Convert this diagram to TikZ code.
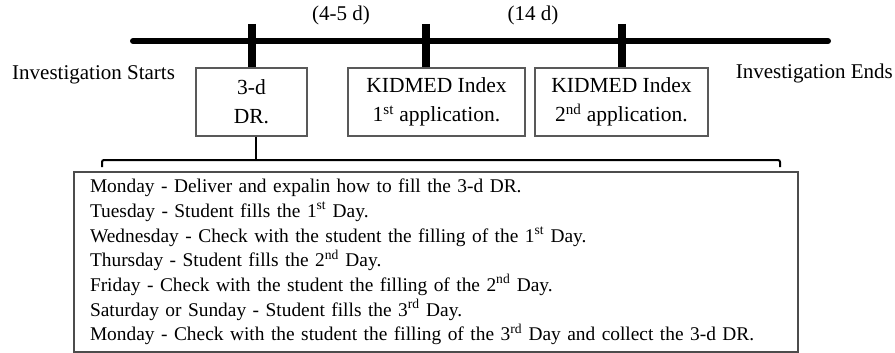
\documentclass[tikz,border=0pt]{standalone}
\usepackage{fontspec}
\setmainfont{Liberation Serif}
\begin{document}
\begin{tikzpicture}[x=1pt,y=-1pt,
  lbl/.style={font=\fontsize{21}{24}\selectfont, inner sep=0pt},
  stagebox/.style={draw=black!65, line width=1.3pt, align=center, font=\fontsize{21.5}{29}\selectfont, minimum height=68pt, inner sep=0pt},
  timeline/.style={line width=6pt, line cap=round},
  tick/.style={line width=8pt},
  bracket/.style={line width=2pt, rounded corners=2pt}]
\useasboundingbox (0,0) rectangle (895,353);
% timeline
\coordinate (tl) at (133,41);
\coordinate (tr) at (828,41);
\draw[timeline] (tl) -- (tr);
% boxes
\node[stagebox, minimum width=111pt] (b1) at (251.5,102) {3-d\\DR.};
\node[stagebox, minimum width=177pt] (b2) at (436.5,102) {KIDMED Index\\1\textsuperscript{st} application.};
\node[stagebox, minimum width=173pt] (b3) at (621.5,102) {KIDMED Index\\2\textsuperscript{nd} application.};
% ticks
\coordinate (k1) at (252,24);
\coordinate (k2) at (426,24);
\coordinate (k3) at (622,24);
\draw[tick] (k1) -- (k1 |- b1.north);
\draw[tick] (k2) -- (k2 |- b2.north);
\draw[tick] (k3) -- (k3 |- b3.north);
% labels
\node[lbl] (p1) at (341,15) {(4-5 d)};
\node[lbl] (p2) at (533,15) {(14 d)};
\node[lbl, anchor=west] (st) at (12,75) {Investigation Starts};
\node[lbl, anchor=east] (en) at (893,73) {Investigation Ends};
% bottom box
\node[draw=black!70, line width=1.6pt, minimum width=724pt, minimum height=180pt, text width=692pt, align=left, inner xsep=16pt, inner ysep=0pt, font=\fontsize{19.4}{24.7}\selectfont] (days) at (436,262) {Monday - Deliver and expalin how to fill the 3-d DR.\\
Tuesday - Student fills the 1\textsuperscript{st} Day.\\
Wednesday - Check with the student the filling of the 1\textsuperscript{st} Day.\\
Thursday - Student fills the 2\textsuperscript{nd} Day.\\
Friday - Check with the student the filling of the 2\textsuperscript{nd} Day.\\
Saturday or Sunday - Student fills the 3\textsuperscript{rd} Day.\\
Monday - Check with the student the filling of the 3\textsuperscript{rd} Day and collect the 3-d DR.};
% bracket
\coordinate (bj) at (256,160);
\coordinate (bl) at (102,167);
\coordinate (br) at (780,167);
\draw[line width=1.5pt] (b1.south -| bj) -- (bj);
\draw[bracket] (bl) -- (bl |- bj) -- (br |- bj) -- (br);
\end{tikzpicture}
\end{document}
